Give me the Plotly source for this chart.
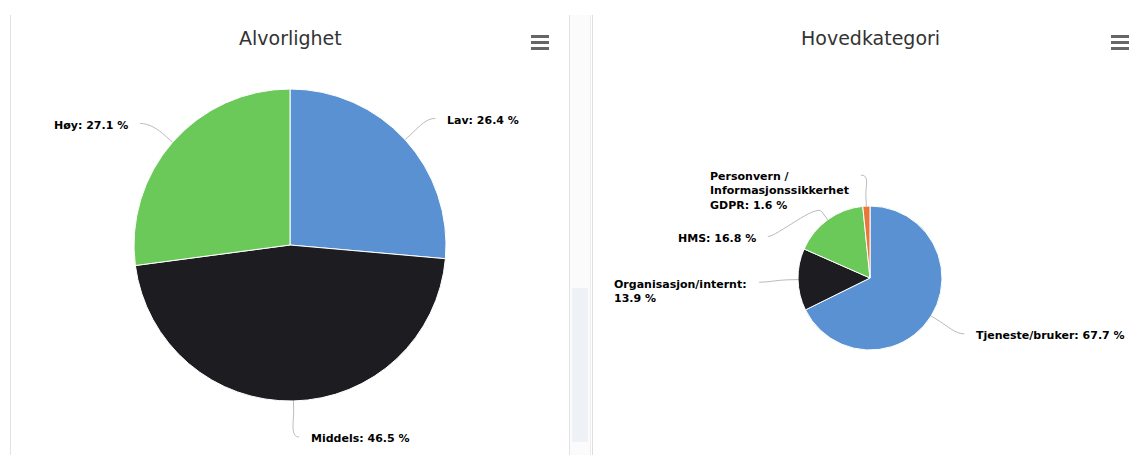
import math
import plotly.graph_objects as go

W, H = 1131, 455

# ---------------- data ----------------
sev_title = "Alvorlighet"
sev_labels = ["Lav", "Middels", "Høy"]
sev_values = [26.4, 46.5, 27.1]
sev_colors = ["#5a91d3", "#1c1c21", "#6bc95a"]
sev_wrapped = ["Lav", "Middels", "Høy"]
sev_sep = [" ", " ", " "]

cat_title = "Hovedkategori"
cat_labels = ["Tjeneste/bruker", "Organisasjon/internt", "HMS",
              "Personvern / Informasjonssikkerhet GDPR"]
cat_values = [67.7, 13.9, 16.8, 1.6]
cat_colors = ["#5a91d3", "#1c1c21", "#6bc95a", "#e8773a"]
cat_wrapped = ["Tjeneste/bruker", "Organisasjon/internt", "HMS",
               "Personvern /<br>Informasjonssikkerhet<br>GDPR"]
cat_sep = [" ", "<br>", " ", " "]

# ---------------- layout helpers ----------------
def px(x, y):
    return x / W, 1 - y / H

LABEL_FONT = dict(family="DejaVu Sans", size=11, color="#000000")
LH = 14.3  # plotly line height for 11px


def domain(cx, cy, r):
    return dict(x=[(cx - r) / W, (cx + r) / W],
                y=[1 - (cy + r) / H, 1 - (cy - r) / H])


def labels_for(cx, cy, r, values, wrapped, seps, nudges, dist=30):
    anns, shapes = [], []
    total = sum(values)
    cum = 0.0
    R = r + dist
    for v, name, sep, nd in zip(values, wrapped, seps, nudges):
        mid = (cum + v / 2) / total * 2 * math.pi
        cum += v
        sx, sy = math.sin(mid), -math.cos(mid)
        right = sx >= 0
        sgn = 1 if right else -1
        ex, ey = cx + r * sx, cy + r * sy            # edge of pie
        bx, by = cx + (r + 10) * sx, cy + (r + 10) * sy  # second break
        ly = cy + R * sy + nd                          # label y
        dy = ly - cy
        lx = cx + sgn * math.sqrt(max(R * R - dy * dy, 0))
        # connector (soft)
        c2x, c2y = 2 * bx - ex, 2 * by - ey
        p = lambda x, y: "%f,%f" % px(x, y)
        path = ("M " + p(lx + sgn * 9, ly) + " C " + p(lx, ly) + " " + p(c2x, c2y) +
                " " + p(bx, by) + " L " + p(ex, ey))
        shapes.append(dict(type="path", path=path, xref="paper", yref="paper",
                           line=dict(color="#bbbbbb", width=1)))
        txt = "<b>%s:%s%.1f %%</b>" % (name, sep, v)
        nlines = txt.count("<br>") + 1
        tx = lx + sgn * 19
        ty = ly + 2 + (nlines - 1) * LH / 2
        ax, ay = px(tx, ty)
        anns.append(dict(x=ax, y=ay, xref="paper", yref="paper", text=txt,
                         showarrow=False, xanchor="left" if right else "right",
                         yanchor="middle", align="left", font=LABEL_FONT))
    return anns, shapes


# pie geometry (pixels)
L_CX, L_CY, L_R = 290, 245, 156
R_CX, R_CY, R_R = 870, 278, 72

fig = go.Figure()
fig.add_trace(go.Pie(labels=sev_labels, values=sev_values, sort=False,
                     direction="clockwise", rotation=0, textinfo="none",
                     marker=dict(colors=sev_colors, line=dict(color="#ffffff", width=1)),
                     domain=domain(L_CX, L_CY, L_R), showlegend=False,
                     hovertemplate="%{label}: %{percent:.1%}<extra></extra>"))
fig.add_trace(go.Pie(labels=cat_labels, values=cat_values, sort=False,
                     direction="clockwise", rotation=0, textinfo="none",
                     marker=dict(colors=cat_colors, line=dict(color="#ffffff", width=1)),
                     domain=domain(R_CX, R_CY, R_R), showlegend=False,
                     hovertemplate="%{label}: %{percent:.1%}<extra></extra>"))

a1, s1 = labels_for(L_CX, L_CY, L_R, sev_values, sev_wrapped, sev_sep, [-1, 6, 1])
a2, s2 = labels_for(R_CX, R_CY, R_R, cat_values, cat_wrapped, cat_sep, [2, 2, 41, -1])

shapes = s1 + s2
annotations = a1 + a2

# titles
for t, x in [(sev_title, 290), (cat_title, 871)]:
    ax, ay = px(x, 38)
    annotations.append(dict(x=ax, y=ay, xref="paper", yref="paper", text=t,
                            showarrow=False, xanchor="center", yanchor="middle",
                            font=dict(family="DejaVu Sans", size=19, color="#333333")))

# panel frames / scroll bar
def vline(x, y0, y1, color, width=1):
    x0p, y0p = px(x, y0)
    _, y1p = px(x, y1)
    return dict(type="line", xref="paper", yref="paper", x0=x0p, x1=x0p,
                y0=y0p, y1=y1p, line=dict(color=color, width=width))

def rect(x0, y0, x1, y1, fill):
    a, b = px(x0, y0)
    c, d = px(x1, y1)
    return dict(type="rect", xref="paper", yref="paper", x0=a, x1=c, y0=b, y1=d,
                fillcolor=fill, line=dict(width=0), layer="below")

shapes += [
    rect(570, 15, 590, 455, "#fbfbfc"),
    rect(572, 288, 588, 442, "#eef2f7"),
    vline(10.5, 15, 455, "#e3e3e3"),
    vline(569.5, 15, 455, "#e3e3e3"),
    vline(590.5, 15, 455, "#ececec"),
    vline(592.5, 15, 455, "#dedede"),
]

# menu (hamburger) icons
for x0 in (531, 1111):
    for yy in (36.5, 42.5, 48.5):
        a, b = px(x0, yy)
        c, _ = px(x0 + 18, yy)
        shapes.append(dict(type="line", xref="paper", yref="paper", x0=a, x1=c,
                           y0=b, y1=b, line=dict(color="#666666", width=3)))

fig.update_layout(width=W, height=H, margin=dict(l=0, r=0, t=0, b=0),
                  paper_bgcolor="#ffffff", plot_bgcolor="#ffffff",
                  shapes=shapes, annotations=annotations)

fig.write_html("out.html", config={"displayModeBar": False},
               post_script="document.body.style.margin='0';"
                           "document.body.style.overflow='hidden';")
